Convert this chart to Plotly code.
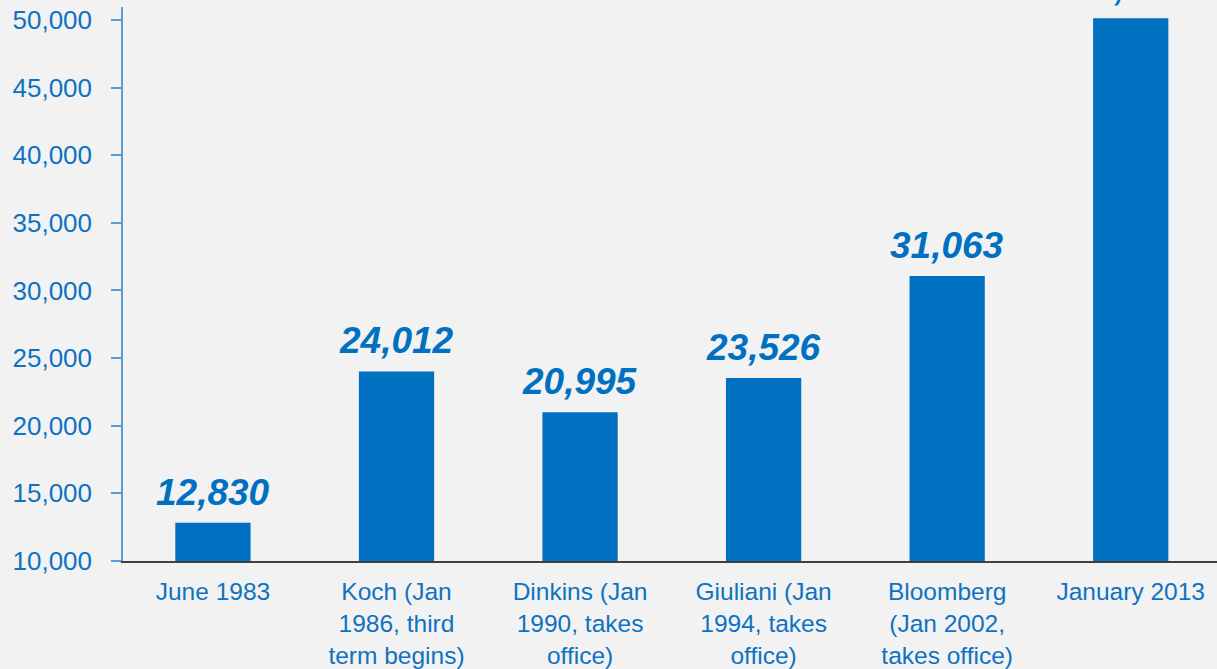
import plotly.graph_objects as go

# categories and values
categories = [
    "June 1983",
    "Koch (Jan<br>1986, third<br>term begins)",
    "Dinkins (Jan<br>1990, takes<br>office)",
    "Giuliani (Jan<br>1994, takes<br>office)",
    "Bloomberg<br>(Jan 2002,<br>takes office)",
    "January 2013",
]
values = [12830, 24012, 20995, 23526, 31063, 50135]
tick_values = [10000, 15000, 20000, 25000, 30000, 35000, 40000, 45000, 50000]

BLUE = "#0070C0"
TEXT_BLUE = "#0E72C2"
FONT = "Liberation Sans, Arial, sans-serif"

fig = go.Figure()
fig.add_trace(go.Bar(x=categories, y=values, marker_color=BLUE,
                     marker_line_width=0))

# value labels above each bar
for cat, val in zip(categories, values):
    fig.add_annotation(
        x=cat, y=val, text="<b><i>{:,}</i></b>".format(val),
        showarrow=False, yanchor="bottom", yshift=8,
        font=dict(family=FONT, size=37, color=BLUE),
    )

fig.update_layout(
    width=1217, height=669,
    margin=dict(l=123, r=0, t=7, b=108),
    paper_bgcolor="#F2F2F2", plot_bgcolor="#F2F2F2",
    bargap=0.59,
    showlegend=False,
    font=dict(family=FONT, size=25, color=TEXT_BLUE),
)
# the original chart runs slightly past the right edge of the picture
fig.update_xaxes(
    range=[-0.49, 5.47],
    showline=True, linecolor="#404040", linewidth=1.5,
    ticks="", showgrid=False,
    ticklabelstandoff=8,
    tickfont=dict(size=24.5, color=TEXT_BLUE),
)
fig.update_yaxes(
    range=[10000, 50960],
    tickvals=tick_values, tickformat=",",
    showline=True, linecolor="#5B9BD5", linewidth=1.5,
    ticks="outside", ticklen=10, tickcolor="#5B9BD5", tickwidth=1.5,
    ticklabelstandoff=14,
    showgrid=False, zeroline=False,
    tickfont=dict(size=26, color=TEXT_BLUE),
)

fig.write_html("out.html", config={"displayModeBar": False},
               post_script="document.body.style.margin='0';")
